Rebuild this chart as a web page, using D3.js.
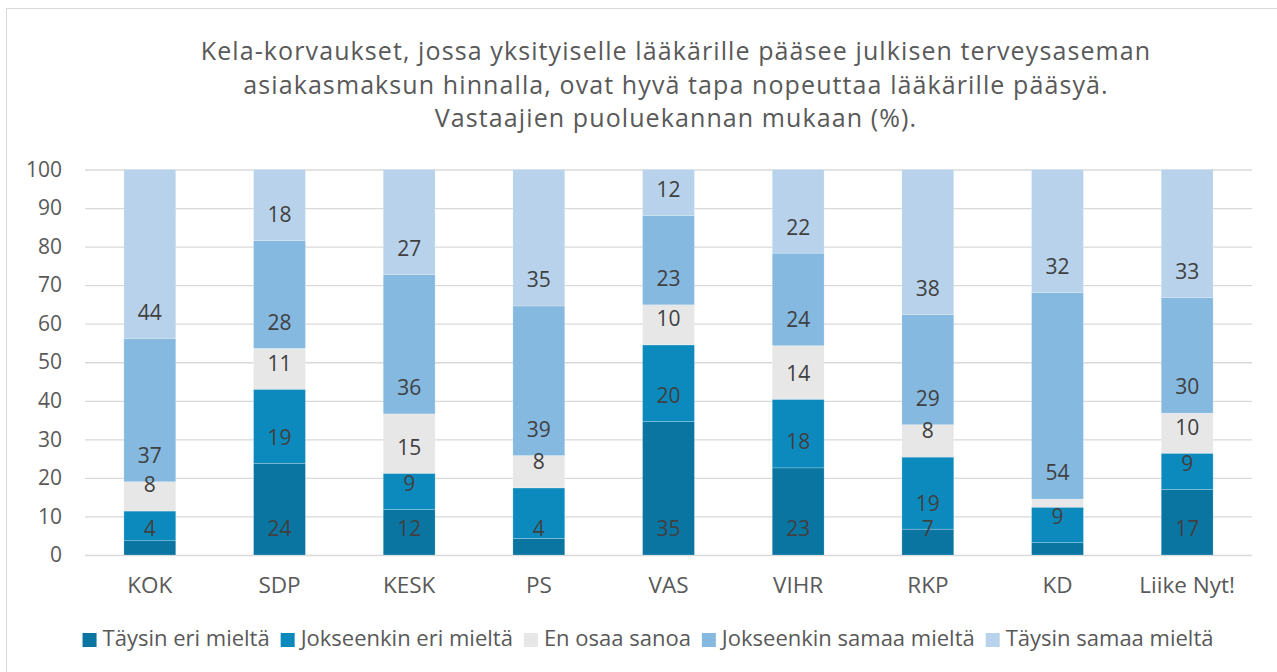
<!DOCTYPE html>
<html>
<head>
<meta charset="utf-8">
<script src="https://cdn.jsdelivr.net/npm/d3@7"></script>
<style>
  body { margin: 0; background: #fff; }
  svg text { font-family: "Open Sans", "Liberation Sans", sans-serif; fill: #595959; }
</style>
</head>
<body>
<div id="chart"></div>
<script>
// ---------------------------//
//           DATA             //
// ---------------------------//
const parties = ["KOK", "SDP", "KESK", "PS", "VAS", "VIHR", "RKP", "KD", "Liike Nyt!"];
const seriesNames = ["Täysin eri mieltä", "Jokseenkin eri mieltä", "En osaa sanoa",
                     "Jokseenkin samaa mieltä", "Täysin samaa mieltä"];

const taysinEri       = [3.7, 23.8, 11.8, 4.3, 34.6, 22.6, 6.7, 3.2, 17.0];
const jokseenkinEri   = [7.7, 19.2, 9.4, 13.1, 19.9, 17.8, 18.7, 9.2, 9.4];
const enOsaa          = [7.6, 10.6, 15.4, 8.4, 10.4, 13.9, 8.4, 2.1, 10.4];
const jokseenkinSamaa = [37.2, 28.0, 36.1, 38.8, 23.2, 24.0, 28.6, 53.6, 30.0];
const taysinSamaa     = [43.8, 18.4, 27.3, 35.4, 11.9, 21.7, 37.6, 31.9, 33.2];

const yTicks = [0, 10, 20, 30, 40, 50, 60, 70, 80, 90, 100];

// labels that are not shown in the original chart: [party, series index]
const hiddenLabels = [["KOK", 1], ["PS", 1], ["KD", 0], ["KD", 2]];

const titleLines = [
  "Kela-korvaukset, jossa yksityiselle lääkärille pääsee julkisen terveysaseman",
  "asiakasmaksun hinnalla, ovat hyvä tapa nopeuttaa lääkärille pääsyä.",
  "Vastaajien puoluekannan mukaan (%)."
];

const colors = ["#0a75a1", "#0d8abd", "#e7e7e7", "#85b9e0", "#b7d2ea"];

// ---------------------------//
//          CANVAS            //
// ---------------------------//
const W = 1277, H = 672;
const plot = {left: 85, right: 1252, top: 169.5, bottom: 555};

const svg = d3.select("#chart").append("svg")
    .attr("width", W)
    .attr("height", H);

// outer frame
svg.append("rect")
    .attr("x", 6.5).attr("y", 8.5)
    .attr("width", 1300).attr("height", 700)
    .attr("fill", "#fff")
    .attr("stroke", "#d9d9d9");

// title
svg.append("g").selectAll("text")
    .data(titleLines)
    .enter().append("text")
    .attr("x", 676)
    .attr("y", (d, i) => 60 + i * 33.5)
    .attr("text-anchor", "middle")
    .style("font-size", "25px")
    .style("letter-spacing", "1.1px")
    .text(d => d);

// ---------------------------//
//        SCALES & AXES       //
// ---------------------------//
const rows = parties.map((p, i) => ({
  party: p,
  [seriesNames[0]]: taysinEri[i],
  [seriesNames[1]]: jokseenkinEri[i],
  [seriesNames[2]]: enOsaa[i],
  [seriesNames[3]]: jokseenkinSamaa[i],
  [seriesNames[4]]: taysinSamaa[i]
}));

const stacked = d3.stack().keys(seriesNames)(rows);

const x = d3.scaleBand()
    .domain(parties)
    .range([plot.left, plot.right])
    .paddingInner(0.6)
    .paddingOuter(0.3);

const y = d3.scaleLinear()
    .domain([0, 100])
    .range([plot.bottom, plot.top]);

// gridlines
svg.append("g")
    .attr("transform", `translate(${plot.left},0)`)
    .call(d3.axisLeft(y).tickValues(yTicks).tickSize(-(plot.right - plot.left)).tickFormat(""))
    .call(g => g.select(".domain").remove())
    .selectAll("line")
    .attr("stroke", "#d9d9d9")
    .attr("stroke-width", 1.3);

// y tick labels
svg.append("g")
    .attr("transform", `translate(${plot.left},0)`)
    .call(d3.axisLeft(y).tickValues(yTicks).tickSize(0).tickPadding(23))
    .call(g => g.select(".domain").remove())
    .selectAll("text")
    .style("font-size", "21px")
    .style("fill", "#595959");

// x labels
svg.append("g")
    .attr("transform", `translate(0,${plot.bottom})`)
    .call(d3.axisBottom(x).tickSize(0).tickPadding(22))
    .call(g => g.select(".domain").remove())
    .selectAll("text")
    .style("font-size", "22.5px")
    .style("fill", "#595959");

// ---------------------------//
//            BARS            //
// ---------------------------//
const layers = svg.append("g").selectAll("g")
    .data(stacked)
    .enter().append("g")
    .attr("fill", (d, i) => colors[i]);

layers.selectAll("rect")
    .data(d => d)
    .enter().append("rect")
    .attr("x", d => x(d.data.party))
    .attr("y", d => y(d[1]))
    .attr("width", x.bandwidth())
    .attr("height", d => y(d[0]) - y(d[1]))
    .attr("stroke", "#fff")
    .attr("stroke-opacity", 0.35)
    .attr("stroke-width", 0.6);

// data labels (placed inside base, as in the original)
const isHidden = (party, k) => hiddenLabels.some(h => h[0] === party && h[1] === k);
const labelOffset = 26;

stacked.forEach((layer, k) => {
  svg.append("g").selectAll("text")
      .data(layer.filter(d => !isHidden(d.data.party, k)))
      .enter().append("text")
      .attr("x", d => x(d.data.party) + x.bandwidth() / 2)
      .attr("y", d => y(d[0]) - labelOffset)
      .attr("dy", "0.35em")
      .attr("text-anchor", "middle")
      .style("font-size", "21px")
      .style("fill", "#404040")
      .text(d => Math.round(d[1] - d[0]));
});

// ---------------------------//
//           LEGEND           //
// ---------------------------//
const legend = svg.append("g");
const items = legend.selectAll("g")
    .data(seriesNames)
    .enter().append("g");

items.append("rect")
    .attr("width", 14).attr("height", 14)
    .attr("y", -13)
    .attr("fill", (d, i) => colors[i]);

items.append("text")
    .attr("x", 20)
    .attr("y", 0)
    .style("font-size", "22px")
    .text(d => d);

let cursor = 0;
items.each(function() {
  const w = d3.select(this).select("text").node().getComputedTextLength();
  d3.select(this).attr("transform", `translate(${cursor},0)`);
  cursor += 20 + w + 11;
});
cursor -= 11;
legend.attr("transform", `translate(${648 - cursor / 2},646)`);
</script>
</body>
</html>
